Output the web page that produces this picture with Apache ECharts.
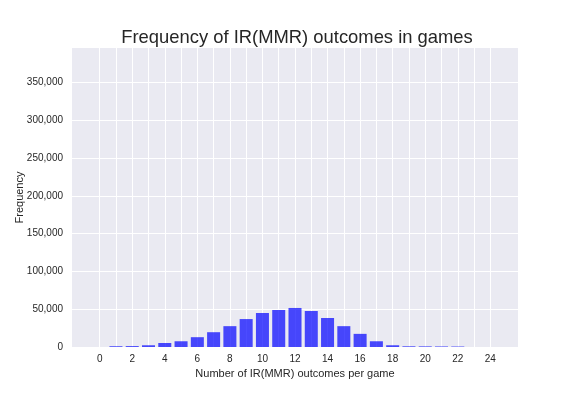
<!DOCTYPE html>
<html>
<head>
<meta charset="utf-8">
<script src="https://cdn.jsdelivr.net/npm/echarts@6/dist/echarts.min.js"></script>
<style>
html,body{margin:0;padding:0;background:#fff;}
#chart{width:576px;height:396px;}
</style>
</head>
<body>
<div id="chart"></div>
<script>
// Data
const outcomes = [1,2,3,4,5,6,7,8,9,10,11,12,13,14,15,16,17,18,19,20,21,22];
const frequency = [1000,1200,2300,5300,7600,13000,19600,27600,37000,45000,49000,51700,47700,38400,27600,17400,7600,2300,900,800,700,600];
const xTickLabels = [0,2,4,6,8,10,12,14,16,18,20,22,24];
const xGridValues = [0,1,2,3,4,5,6,7,8,9,10,11,12,13,14,15,16,17,18,19,20,21,22,23,24];
const yTickLabels = [0,50000,100000,150000,200000,250000,300000,350000];

const chart = echarts.init(document.getElementById('chart'), null, {renderer: 'canvas'});
const textColor = '#262626';
const font = 'Liberation Sans, Arial, sans-serif';

chart.setOption({
  animation: false,
  backgroundColor: '#ffffff',
  title: {
    text: 'Frequency of IR(MMR) outcomes in games',
    left: 292, top: 24, textAlign: 'center',
    textStyle: {fontFamily: font, fontSize: 18.4, fontWeight: 'normal', color: textColor}
  },
  grid: {left: 72, right: 58, top: 48, bottom: 49, show: true, backgroundColor: '#EAEAF2', borderWidth: 0,
    containLabel: false, outerBoundsMode: 'none'},
  xAxis: {
    type: 'value', min: -1.7, max: 25.7,
    name: 'Number of IR(MMR) outcomes per game',
    nameLocation: 'middle', nameGap: 21, nameMoveOverlap: false,
    nameTextStyle: {fontFamily: font, fontSize: 11, color: textColor},
    axisLine: {show: false},
    axisTick: {show: false, customValues: xGridValues},
    axisLabel: {customValues: xTickLabels, fontFamily: font, fontSize: 10, color: textColor, margin: 7},
    splitLine: {show: true, lineStyle: {color: '#ffffff', width: 1}}
  },
  yAxis: {
    type: 'value', min: 0, max: 396000,
    name: 'Frequency', nameLocation: 'middle', nameGap: 47, nameMoveOverlap: false,
    nameTextStyle: {fontFamily: font, fontSize: 11, color: textColor},
    axisLine: {show: false},
    axisTick: {show: false, customValues: yTickLabels},
    axisLabel: {customValues: yTickLabels, fontFamily: font, fontSize: 10, color: textColor, margin: 9,
      formatter: v => v.toLocaleString('en-US')},
    splitLine: {show: true, lineStyle: {color: '#ffffff', width: 1}}
  },
  series: [{
    type: 'custom',
    data: outcomes.map((x, i) => [x, frequency[i]]),
    encode: {x: 0, y: 1},
    renderItem: function (params, api) {
      const x = api.value(0), y = api.value(1);
      const w = api.size([0.8, 0])[0];
      const top = api.coord([x, y]);
      const base = api.coord([x, 0]);
      return {
        type: 'rect',
        shape: {x: top[0] - w / 2, y: top[1], width: w, height: base[1] - top[1]},
        style: {fill: 'rgba(0,0,255,0.7)'}
      };
    }
  }]
});
</script>
</body>
</html>
